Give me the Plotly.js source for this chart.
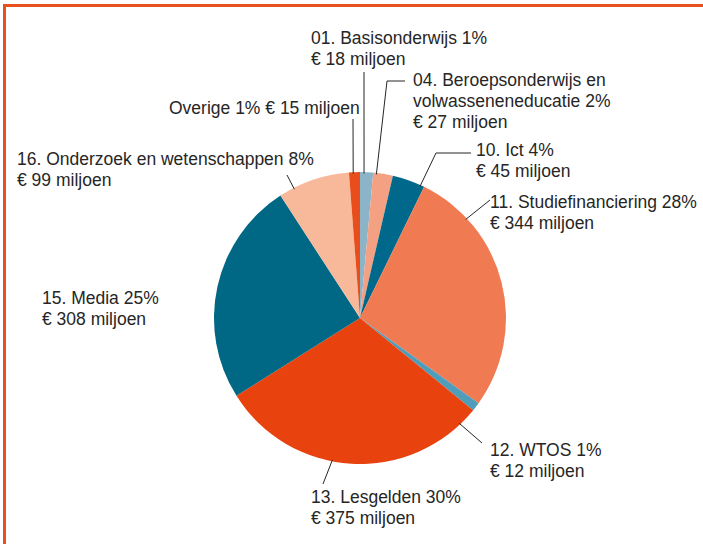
<!DOCTYPE html>
<html>
<head>
<meta charset="utf-8">
<script src="https://cdn.plot.ly/plotly-3.0.1.min.js"></script>
<style>
  html, body { margin: 0; padding: 0; background: #fff; }
  #wrap { position: relative; width: 703px; height: 544px; overflow: hidden; }
  #chart { width: 703px; height: 544px; }
  #frame { position: absolute; left: 3px; top: 4px; width: 900px; height: 900px;
           border-top: 3px solid #e8501e; border-left: 3px solid #e8501e; pointer-events: none; }
</style>
</head>
<body>
<div id="wrap">
  <div id="chart"></div>
  <div id="frame"></div>
</div>
<script>
// ---- data ----
var categories = [
  "01. Basisonderwijs",
  "04. Beroepsonderwijs en volwasseneneducatie",
  "10. Ict",
  "11. Studiefinanciering",
  "12. WTOS",
  "13. Lesgelden",
  "15. Media",
  "16. Onderzoek en wetenschappen",
  "Overige"
];
var values = [18, 27, 45, 344, 12, 375, 308, 99, 15];   // € miljoen
var percents = [1, 2, 4, 28, 1, 30, 25, 8, 1];
var labelTexts = [
  "01. Basisonderwijs 1%<br>€ 18 miljoen",
  "04. Beroepsonderwijs en<br>volwasseneneducatie 2%<br>€ 27 miljoen",
  "10. Ict 4%<br>€ 45 miljoen",
  "11. Studiefinanciering 28%<br>€ 344 miljoen",
  "12. WTOS 1%<br>€ 12 miljoen",
  "13. Lesgelden 30%<br>€ 375 miljoen",
  "15. Media 25%<br>€ 308 miljoen",
  "16. Onderzoek en wetenschappen 8%<br>€ 99 miljoen",
  "Overige 1% € 15 miljoen"
];

// ---- style / layout ----
var colors = ["#8bb4c9", "#f3a083", "#00698b", "#f07a52", "#4d9dbb",
              "#e8430f", "#006784", "#f8b99b", "#e84e1b"];

var W = 703, H = 544;
var M = {l: 214, r: 197, t: 172, b: 80};
var PW = W - M.l - M.r, PH = H - M.t - M.b;   // 292 x 292
function px2x(p) { return (p - M.l) / PW; }
function px2y(p) { return (H - M.b - p) / PH; }

// label placement: pixel x (left or right edge) and vertical center of first line
var labelPos = [
  {x: 309, y: 38,  anchor: "left"},
  {x: 411, y: 80,  anchor: "left"},
  {x: 474, y: 150, anchor: "left"},
  {x: 488, y: 202, anchor: "left"},
  {x: 488, y: 450, anchor: "left"},
  {x: 309, y: 497, anchor: "left"},
  {x: 40,  y: 298, anchor: "left"},
  {x: 15,  y: 159, anchor: "left"},
  {x: 362, y: 108, anchor: "right"}
];
var LINE_GAP = 21;
// leader lines: start angle on pie (deg, clockwise from top), then pixel waypoints
var leaders = [
  {ang: 1.6,   pts: [[364, 72]]},
  {ang: 6.5,   pts: [[387, 81], [405, 81]]},
  {ang: 24.5,  pts: [[436, 153], [471, 153]]},
  {ang: 47,    pts: [[490, 200]]},
  {ang: 136.7, pts: [[482, 443]]},
  {ang: 191,   pts: [[323, 484]]},
  null,
  {ang: 333,   pts: [[287, 175]]},
  {ang: 357.3, pts: [[353, 119]]}
];

var cx = M.l + PW / 2, cy = M.t + PH / 2, R = Math.min(PW, PH) / 2;
var FONT = {family: "Liberation Sans, Arial, sans-serif", size: 17.5, color: "#262626"};

var annotations = [];
var shapes = [];
for (var i = 0; i < categories.length; i++) {
  var lp = labelPos[i];
  var lines = labelTexts[i].split("<br>");
  lines.forEach(function (ln, k) {
    annotations.push({
      xref: "paper", yref: "paper",
      x: px2x(lp.x), y: px2y(lp.y + k * LINE_GAP),
      xanchor: lp.anchor, yanchor: "middle",
      align: lp.anchor,
      text: ln,
      showarrow: false,
      font: FONT
    });
  });
  var ld = leaders[i];
  if (ld) {
    var a = ld.ang * Math.PI / 180;
    var sx = cx + R * 0.99 * Math.sin(a), sy = cy - R * 0.99 * Math.cos(a);
    var path = "M " + px2x(sx) + "," + px2y(sy);
    ld.pts.forEach(function (p) { path += " L " + px2x(p[0]) + "," + px2y(p[1]); });
    shapes.push({type: "path", xref: "paper", yref: "paper", path: path,
                 line: {color: "#262626", width: 1}});
  }
}

var trace = {
  type: "pie",
  labels: categories,
  values: values,
  sort: false,
  direction: "clockwise",
  rotation: 0,
  textinfo: "none",
  hoverinfo: "label+value",
  marker: {colors: colors, line: {width: 0}},
  domain: {x: [0, 1], y: [0, 1]},
  showlegend: false
};

var layout = {
  width: W, height: H,
  margin: M,
  paper_bgcolor: "#ffffff",
  plot_bgcolor: "#ffffff",
  showlegend: false,
  annotations: annotations,
  shapes: shapes
};

Plotly.newPlot("chart", [trace], layout, {displayModeBar: false, staticPlot: true});
</script>
</body>
</html>
